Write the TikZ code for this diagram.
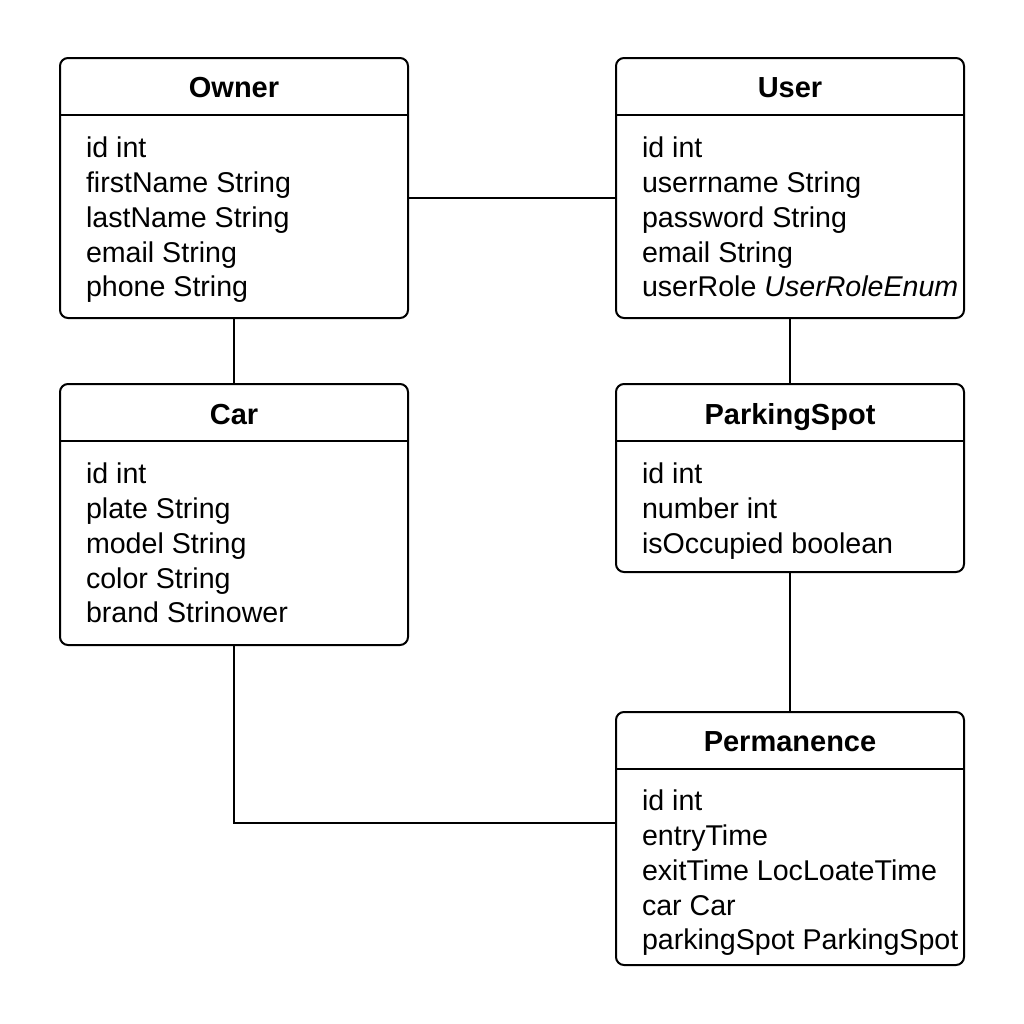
\documentclass[tikz,border=0pt]{standalone}
\usepackage{fontspec}
\setmainfont{Liberation Sans}
\usetikzlibrary{positioning}
\begin{document}
\begin{tikzpicture}[x=0.5pt, y=-0.5pt, line width=1pt,
    classbox/.style={draw, rounded corners=4pt, minimum width=174pt, inner sep=0pt},
    classname/.style={anchor=base, inner sep=0pt, font=\fontsize{14.5}{17}\selectfont\bfseries},
    attrs/.style={anchor=north west, align=left, inner sep=0pt, font=\fontsize{14.3}{17.4}\selectfont}]
    \useasboundingbox (0,0) rectangle (1024,1024);

    % Class boxes
    \node[classbox, minimum height=130pt] (owner) at (234,188) {};
    \node[classbox, minimum height=130pt] (user) at (790,188) {};
    \node[classbox, minimum height=130.5pt] (car) at (234,514.5) {};
    \node[classbox, minimum height=94pt] (spot) at (790,478) {};
    \node[classbox, minimum height=126.5pt] (perm) at (790,838.5) {};

    % Header lines
    \draw (owner.west |- 0,115) -- (owner.east |- 0,115);
    \draw (user.west |- 0,115) -- (user.east |- 0,115);
    \draw (car.west |- 0,441) -- (car.east |- 0,441);
    \draw (spot.west |- 0,441) -- (spot.east |- 0,441);
    \draw (perm.west |- 0,769) -- (perm.east |- 0,769);

    % Class names
    \node[classname] (ownertitle) at (234,97) {Owner};
    \node[classname] (usertitle) at (790,97) {User};
    \node[classname] (cartitle) at (234,424) {Car};
    \node[classname] (spottitle) at (790,424) {ParkingSpot};
    \node[classname] (permtitle) at (790,751) {Permanence};

    % Attributes
    \node[attrs] (ownerattrs) at (85,136) {id int\\firstName String\\lastName String\\email String\\phone String};
    \node[attrs] (userattrs) at (641,136) {id int\\userrname String\\password String\\email String\\userRole \textit{UserRoleEnum}};
    \node[attrs] (carattrs) at (85,462) {id int\\plate String\\model String\\color String\\brand Strinower};
    \node[attrs] (spotattrs) at (641,462) {id int\\number int\\isOccupied boolean};
    \node[attrs] (permattrs) at (641,789) {id int\\entryTime\\exitTime LocLoateTime\\car Car\\parkingSpot ParkingSpot};

    % Associations
    \draw ([yshift=-5pt]owner.east) -- ([yshift=-5pt]user.west);
    \draw (owner.south) -- (car.north);
    \draw (user.south) -- (spot.north);
    \draw (spot.south) -- (perm.north);
    \draw (car.south) |- ([yshift=7.75pt]perm.west);
\end{tikzpicture}
\end{document}
